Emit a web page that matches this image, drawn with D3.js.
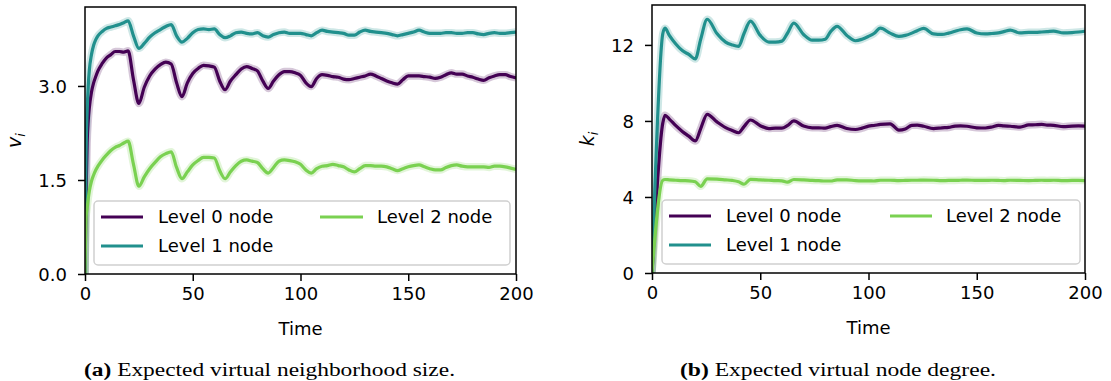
<!DOCTYPE html>
<html>
<head>
<meta charset="utf-8">
<script src="https://cdn.jsdelivr.net/npm/d3@7"></script>
<style>
  html, body { margin: 0; padding: 0; background: #fff; }
  svg { display: block; }
  text { font-family: "DejaVu Sans", sans-serif; fill: #000; }
</style>
</head>
<body>
<svg id="chart" width="1111" height="381"></svg>
<script>
// ---------------- DATA ----------------
const seriesNames = ["Level 0 node", "Level 1 node", "Level 2 node"];
const seriesColors = ["#440154", "#21908d", "#7ad151"];

// Panel (a): expected virtual neighborhood size v_i
const timeA = [0,0.5,1,1.5,2,3,4,5,6,8,10,12,14,16,18,20,
  22.5,25,27.5,30,32.5,35,37.5,40,42.5,45,47.5,50,52.5,55,57.5,60,
  62.5,65,67.5,70,72.5,75,77.5,80,82.5,85,87.5,90,92.5,95,97.5,100,
  102.5,105,107.5,110,112.5,115,117.5,120,122.5,125,127.5,130,132.5,135,137.5,140,
  142.5,145,147.5,150,152.5,155,157.5,160,162.5,165,167.5,170,172.5,175,177.5,180,
  182.5,185,187.5,190,192.5,195,197.5,200];
const level0A = [0,1.3,2.1,2.45,2.65,2.9,3.05,3.15,3.24,3.36,3.45,3.50,3.55,3.55,3.54,3.56,
  3.10,2.72,2.98,3.16,3.27,3.34,3.38,3.35,3.05,2.83,3.05,3.20,3.28,3.33,3.32,3.30,
  3.08,2.94,3.08,3.18,3.27,3.31,3.28,3.24,3.08,2.96,3.08,3.18,3.23,3.23,3.21,3.17,
  3.05,2.99,3.12,3.18,3.17,3.15,3.14,3.11,3.10,3.12,3.14,3.16,3.19,3.16,3.12,3.08,
  3.05,3.03,3.10,3.16,3.16,3.16,3.15,3.14,3.12,3.14,3.18,3.21,3.19,3.19,3.16,3.14,
  3.11,3.09,3.13,3.16,3.18,3.18,3.15,3.13];
const level1A = [0,1.9,2.6,3.0,3.25,3.5,3.65,3.74,3.80,3.87,3.92,3.94,3.96,3.98,4.01,4.04,
  3.80,3.60,3.68,3.78,3.85,3.90,3.95,3.98,3.80,3.70,3.76,3.85,3.90,3.91,3.90,3.91,
  3.82,3.77,3.80,3.85,3.86,3.84,3.83,3.85,3.80,3.78,3.82,3.85,3.86,3.84,3.84,3.84,
  3.82,3.80,3.85,3.89,3.87,3.86,3.85,3.84,3.81,3.81,3.86,3.89,3.87,3.86,3.85,3.84,
  3.82,3.80,3.82,3.84,3.86,3.89,3.86,3.84,3.84,3.84,3.85,3.85,3.84,3.84,3.85,3.85,
  3.83,3.82,3.84,3.85,3.84,3.84,3.85,3.86];
const level2A = [0,0.9,1.05,1.2,1.32,1.48,1.58,1.66,1.72,1.82,1.90,1.97,2.02,2.05,2.09,2.12,
  1.75,1.40,1.55,1.68,1.78,1.87,1.92,1.95,1.70,1.52,1.63,1.74,1.81,1.86,1.86,1.85,
  1.65,1.52,1.63,1.73,1.80,1.82,1.80,1.78,1.68,1.61,1.70,1.80,1.82,1.81,1.79,1.75,
  1.66,1.61,1.68,1.72,1.73,1.75,1.73,1.71,1.66,1.63,1.68,1.73,1.73,1.72,1.72,1.71,
  1.68,1.65,1.68,1.71,1.73,1.74,1.71,1.68,1.66,1.66,1.70,1.73,1.74,1.72,1.71,1.71,
  1.71,1.71,1.70,1.72,1.72,1.71,1.69,1.67];

// Panel (b): expected virtual node degree k_i
const timeB = [0,5,6,8,11,14,17,
  20,22.5,25.5,30,34,37,40,42.5,45.5,50,54,57,60,62.5,65.5,70,74,77,
  80,82.5,85.5,90,94,97,100,102.5,105.5,110,114,117,120,122.5,125.5,130,134,137,
  140,142.5,145.5,150,154,157,160,162.5,165.5,170,174,177,180,182.5,185.5,190,194,197,200];
const level0B = [0,7.9,8.3,8.1,7.75,7.45,7.2,
  6.95,7.6,8.35,7.95,7.65,7.5,7.38,7.7,8.05,7.75,7.6,7.62,7.62,7.75,8.0,7.73,7.64,7.64,
  7.62,7.7,7.77,7.6,7.55,7.62,7.73,7.76,7.82,7.85,7.52,7.58,7.77,7.78,7.72,7.6,7.64,7.66,
  7.73,7.74,7.72,7.64,7.63,7.68,7.77,7.74,7.72,7.68,7.79,7.8,7.82,7.78,7.77,7.7,7.73,7.74,7.73];
const level1B = [0,12.6,12.88,12.5,12.05,11.7,11.5,
  11.26,12.3,13.35,12.6,12.15,12.0,11.92,12.6,13.25,12.5,12.15,12.15,12.2,12.6,13.15,12.55,12.25,12.25,
  12.3,12.7,12.98,12.5,12.22,12.3,12.45,12.6,12.88,12.62,12.45,12.5,12.62,12.75,12.87,12.58,12.55,12.62,
  12.72,12.8,12.84,12.63,12.58,12.6,12.63,12.7,12.78,12.63,12.66,12.66,12.68,12.7,12.73,12.63,12.65,12.68,12.72];
const level2B = [0,4.88,4.92,4.9,4.88,4.86,4.85,
  4.8,4.56,4.95,4.94,4.9,4.87,4.8,4.67,4.93,4.9,4.88,4.86,4.85,4.78,4.92,4.9,4.87,4.86,
  4.84,4.84,4.9,4.9,4.86,4.85,4.85,4.84,4.88,4.88,4.86,4.87,4.88,4.88,4.89,4.88,4.86,4.87,
  4.87,4.88,4.89,4.87,4.87,4.88,4.87,4.86,4.88,4.87,4.86,4.87,4.88,4.87,4.88,4.86,4.87,4.87,4.86];

const xTicks = [0, 50, 100, 150, 200];
const yTicksA = [0, 1.5, 3.0];
const yTicksB = [0, 4, 8, 12];
const xLabel = "Time";
const captionA = ["(a)", " Expected virtual neighborhood size."];
const captionB = ["(b)", " Expected virtual node degree."];

// ---------------- DRAW ----------------
const svg = d3.select("#chart");

function panel(cfg) {
  const x = d3.scaleLinear().domain([0, 200]).range([cfg.left, cfg.right]);
  const y = d3.scaleLinear().domain([0, cfg.ymax]).range([cfg.bottom, cfg.top]);
  const g = svg.append("g");

  const clipId = "clip" + cfg.id;
  svg.append("clipPath").attr("id", clipId).append("rect")
    .attr("x", cfg.left).attr("y", cfg.top)
    .attr("width", cfg.right - cfg.left).attr("height", cfg.bottom - cfg.top);

  const line = d3.line().x(d => x(d[0])).y(d => y(d[1])).curve(d3.curveMonotoneX);
  const plot = g.append("g").attr("clip-path", `url(#${clipId})`);
  cfg.series.forEach((vals, i) => {
    const pts = cfg.time.map((t, j) => [t, vals[j]]);
    plot.append("path").attr("d", line(pts)).attr("fill", "none")
      .attr("stroke", seriesColors[i]).attr("stroke-width", 7.5)
      .attr("stroke-opacity", 0.22).attr("stroke-linejoin", "round");
  });
  cfg.series.forEach((vals, i) => {
    const pts = cfg.time.map((t, j) => [t, vals[j]]);
    plot.append("path").attr("d", line(pts)).attr("fill", "none")
      .attr("stroke", seriesColors[i]).attr("stroke-width", 3.2)
      .attr("stroke-linejoin", "round");
  });

  // axes
  const xAxis = d3.axisBottom(x).tickValues(xTicks).tickSize(7).tickPadding(6)
    .tickFormat(d3.format("d"));
  const gx = g.append("g").attr("transform", `translate(0,${cfg.bottom})`).call(xAxis);
  const yAxis = d3.axisLeft(y).tickValues(cfg.yTicks).tickSize(7).tickPadding(11)
    .tickFormat(cfg.yFormat);
  const gy = g.append("g").attr("transform", `translate(${cfg.left},0)`).call(yAxis);
  [gx, gy].forEach(a => {
    a.select(".domain").remove();
    a.selectAll(".tick line").attr("stroke", "#000").attr("stroke-width", 1.5);
    a.selectAll(".tick text").style("font-family", "DejaVu Sans").style("font-size", "18px")
      .attr("fill", "#000");
  });
  gy.selectAll(".tick text").attr("dy", "0.36em");

  // frame
  g.append("rect").attr("x", cfg.left).attr("y", cfg.top)
    .attr("width", cfg.right - cfg.left).attr("height", cfg.bottom - cfg.top)
    .attr("fill", "none").attr("stroke", "#000").attr("stroke-width", 1.5);

  // x label
  g.append("text").attr("x", (cfg.left + cfg.right) / 2).attr("y", cfg.bottom + 61)
    .attr("text-anchor", "middle").style("font-size", "18px").text(xLabel);

  // y label (italic math with subscript)
  const yl = g.append("text")
    .attr("transform", `translate(${cfg.ylabX},${(cfg.top + cfg.bottom) / 2}) rotate(-90)`)
    .attr("text-anchor", "middle").style("font-size", "19px")
    .style("font-family", "DejaVu Sans").style("font-style", "italic");
  yl.append("tspan").text(cfg.ylabMain);
  yl.append("tspan").attr("dy", 4).style("font-size", "13px").text(cfg.ylabSub);

  // legend
  const L = cfg.legend;
  g.append("rect").attr("x", L.x0).attr("y", L.y0).attr("width", L.x1 - L.x0)
    .attr("height", L.y1 - L.y0).attr("rx", 4).attr("fill", "#fff").attr("fill-opacity", 0.8)
    .attr("stroke", "#d0d0d0").attr("stroke-width", 1.5);
  const pos = [[0, 0], [0, 1], [1, 0]];
  seriesNames.forEach((name, i) => {
    const [c, r] = pos[i];
    const ly = L.rows[r];
    g.append("line").attr("x1", L.cols[c][0]).attr("x2", L.cols[c][1])
      .attr("y1", ly).attr("y2", ly).attr("stroke", seriesColors[i]).attr("stroke-width", 3.2);
    g.append("text").attr("x", L.cols[c][2]).attr("y", ly).attr("dy", "0.36em")
      .style("font-size", "18px").text(name);
  });

  // caption
  const cap = svg.append("text").attr("x", cfg.capX0).attr("y", 376)
    .style("font-family", "Liberation Serif, serif").style("font-size", "18px");
  cap.append("tspan").style("font-weight", "bold").text(cfg.caption[0]);
  cap.append("tspan").text(cfg.caption[1]);
  cap.attr("textLength", cfg.capX1 - cfg.capX0).attr("lengthAdjust", "spacingAndGlyphs");
}

panel({
  id: "A", left: 85, right: 516, top: 7, bottom: 274, ymax: 4.26,
  time: timeA, series: [level0A, level1A, level2A],
  yTicks: yTicksA, yFormat: d3.format(".1f"),
  ylabX: 21, ylabMain: "v", ylabSub: "i",
  legend: { x0: 94, x1: 510, y0: 201, y1: 265, rows: [217, 246],
            cols: [[101, 143, 158], [320, 363, 377]] },
  caption: captionA, capX0: 84, capX1: 455
});

panel({
  id: "B", left: 652, right: 1085, top: 5, bottom: 273, ymax: 14.1,
  time: timeB, series: [level0B, level1B, level2B],
  yTicks: yTicksB, yFormat: d3.format("d"),
  ylabX: 594, ylabMain: "k", ylabSub: "i",
  legend: { x0: 662, x1: 1080, y0: 200, y1: 264, rows: [216, 245],
            cols: [[669, 711, 726], [890, 932, 946]] },
  caption: captionB, capX0: 680, capX1: 996
});
</script>
</body>
</html>
